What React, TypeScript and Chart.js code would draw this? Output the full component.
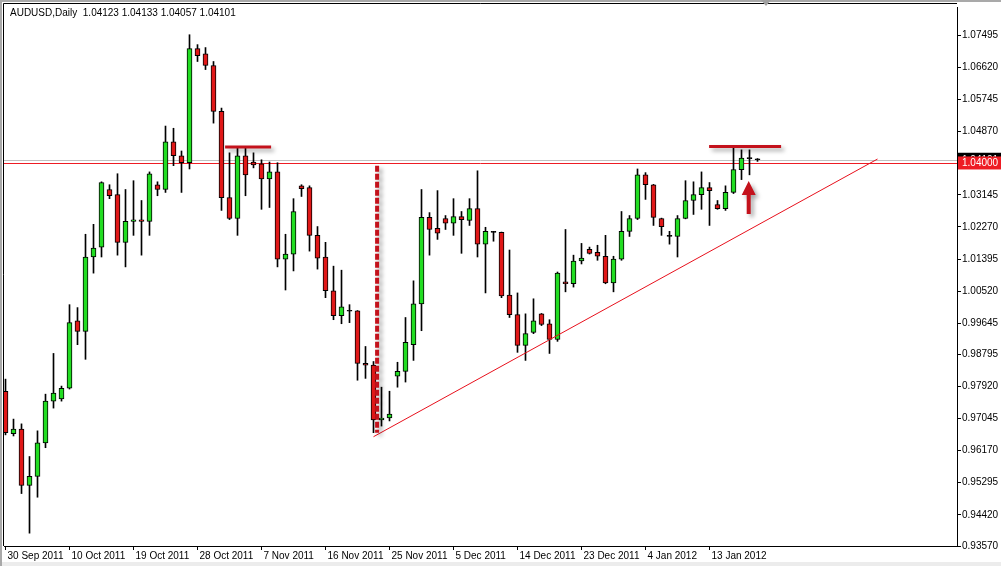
import React, { useEffect, useRef } from 'react';
import { Chart, registerables } from 'chart.js';

Chart.register(...registerables);

// Daily AUDUSD candles (bar index 0 = 30 Sep 2011)
const OPEN = [
  0.9779, 0.9663, 0.9676, 0.9522, 0.9547, 0.9638, 0.9752, 0.9758, 0.9787, 0.9971,
  0.9942, 1.0145, 1.0172, 1.0329, 1.0315, 1.0185, 1.0242, 1.0246, 1.0242, 1.0342,
  1.0329, 1.0459, 1.0421, 1.0402, 1.0713, 1.0699, 1.0667, 1.0542, 1.0307, 1.0250,
  1.0421, 1.0404, 1.0399, 1.0358, 1.0377, 1.0139, 1.0153, 1.0339, 1.0334, 1.0204,
  1.0145, 1.0053, 0.9985, 0.9998, 0.9998, 0.9855, 0.9850, 0.9701, 0.9706, 0.9820,
  0.9833, 0.9906, 1.0017, 1.0253, 1.0223, 1.0250, 1.0237, 1.0255, 1.0245, 1.0277,
  1.0180, 1.0213, 1.0212, 1.0041, 0.9988, 0.9904, 0.9939, 0.9990, 0.9963, 0.9920,
  1.0077, 1.0072, 1.0134, 1.0166, 1.0158, 1.0147, 1.0074, 1.0139, 1.0215, 1.0250,
  1.0369, 1.0342, 1.0250, 1.0202, 1.0201, 1.0250, 1.0299, 1.0315, 1.0334, 1.0288,
  1.0277, 1.0321, 1.0383, 1.0414, 1.04123,
];
const HIGH = [
  0.9812, 0.9703, 0.9690, 0.9601, 0.9671, 0.9771, 0.9882, 0.9793, 1.0015, 1.0007,
  1.0207, 1.0234, 1.0350, 1.0342, 1.0372, 1.0329, 1.0353, 1.0299, 1.0377, 1.0350,
  1.0502, 1.0496, 1.0434, 1.0751, 1.0724, 1.0716, 1.0678, 1.0551, 1.0429, 1.0442,
  1.0442, 1.0429, 1.0410, 1.0404, 1.0402, 1.0207, 1.0304, 1.0342, 1.0339, 1.0228,
  1.0185, 1.0120, 1.0109, 1.0015, 0.9999, 0.9901, 0.9860, 0.9790, 0.9779, 0.9858,
  0.9980, 1.0080, 1.0329, 1.0266, 1.0326, 1.0258, 1.0304, 1.0269, 1.0304, 1.0380,
  1.0226, 1.0215, 1.0213, 1.0164, 1.0047, 0.9990, 1.0031, 0.9991, 0.9974, 1.0104,
  1.0220, 1.0150, 1.0182, 1.0172, 1.0177, 1.0204, 1.0147, 1.0269, 1.0258, 1.0385,
  1.0375, 1.0343, 1.0251, 1.0215, 1.0258, 1.0353, 1.0350, 1.0377, 1.0348, 1.0299,
  1.0339, 1.0445, 1.0437, 1.0437, 1.04133,
];
const LOW = [
  0.9660, 0.9657, 0.9500, 0.9392, 0.9490, 0.9625, 0.9733, 0.9752, 0.9785, 0.9906,
  0.9866, 1.0101, 1.0145, 1.0304, 1.0150, 1.0118, 1.0204, 1.0150, 1.0204, 1.0312,
  1.0321, 1.0394, 1.0321, 1.0385, 1.0678, 1.0656, 1.0510, 1.0272, 1.0247, 1.0204,
  1.0312, 1.0388, 1.0275, 1.0280, 1.0118, 1.0055, 1.0107, 1.0310, 1.0161, 1.0112,
  1.0034, 0.9974, 0.9963, 0.9966, 0.9809, 0.9814, 0.9666, 0.9684, 0.9698, 0.9790,
  0.9804, 0.9863, 0.9944, 1.0150, 1.0193, 1.0220, 1.0204, 1.0155, 1.0231, 1.0145,
  1.0047, 1.0188, 1.0034, 0.9980, 0.9885, 0.9863, 0.9936, 0.9958, 0.9882, 0.9915,
  1.0050, 1.0063, 1.0126, 1.0153, 1.0136, 1.0072, 1.0050, 1.0136, 1.0201, 1.0247,
  1.0302, 1.0231, 1.0204, 1.0180, 1.0145, 1.0249, 1.0261, 1.0275, 1.0231, 1.0275,
  1.0272, 1.0318, 1.0356, 1.0369, 1.04057,
];
const CLOSE = [
  0.9666, 0.9676, 0.9522, 0.9547, 0.9638, 0.9752, 0.9774, 0.9787, 0.9966, 0.9942,
  1.0145, 1.0169, 1.0348, 1.0312, 1.0185, 1.0242, 1.0246, 1.0242, 1.0372, 1.0329,
  1.0459, 1.0421, 1.0402, 1.0713, 1.0694, 1.0667, 1.0542, 1.0307, 1.0250, 1.0421,
  1.0369, 1.0396, 1.0358, 1.0377, 1.0139, 1.0153, 1.0269, 1.0331, 1.0204, 1.0142,
  1.0053, 0.9985, 1.0009, 0.9997, 0.9855, 0.9850, 0.9701, 0.9706, 0.9717, 0.9833,
  0.9912, 1.0017, 1.0253, 1.0220, 1.0210, 1.0237, 1.0255, 1.0247, 1.0277, 1.0180,
  1.0215, 1.0212, 1.0039, 0.9988, 0.9904, 0.9936, 0.9971, 0.9961, 0.9920, 1.0101,
  1.0072, 1.0134, 1.0142, 1.0155, 1.0147, 1.0074, 1.0139, 1.0215, 1.0250, 1.0369,
  1.0342, 1.0253, 1.0228, 1.0201, 1.0250, 1.0299, 1.0315, 1.0334, 1.0326, 1.0277,
  1.0321, 1.0383, 1.0415, 1.0413, 1.04101,
];

const DATE_LABELS = [
  '30 Sep 2011', '10 Oct 2011', '19 Oct 2011', '28 Oct 2011', '7 Nov 2011', '16 Nov 2011',
  '25 Nov 2011', '5 Dec 2011', '14 Dec 2011', '23 Dec 2011', '4 Jan 2012', '13 Jan 2012',
];
const DATE_TICK_INDEX = [0, 8, 16, 24, 32, 40, 48, 56, 64, 72, 80, 88];

const PRICE_TICKS = [
  1.07495, 1.0662, 1.05745, 1.0487, 1.03995, 1.03145, 1.0227, 1.01395, 1.0052,
  0.99645, 0.98795, 0.9792, 0.97045, 0.9617, 0.95295, 0.9442, 0.9357,
];

const TITLE = 'AUDUSD,Daily  1.04123 1.04133 1.04057 1.04101';
const LEVEL = 1.04;
const BID = 1.04101;
const TREND_X = [46, 109];
const TREND_Y = [0.9655, 1.0412];
const VLINE_X = 46.45;
const VLINE_Y = [1.0394, 0.9666];
const RESIST_X = [[27.45, 33.2], [87.95, 96.95]];
const RESIST_Y = [1.0445, 1.0446];
const ARROW_X = 92.9;
const ARROW_Y = [1.0262, 1.0352];

const FONT = { family: '"Liberation Sans", Arial, sans-serif', size: 10 };

export default function App() {
  const ref = useRef<HTMLCanvasElement>(null);

  useEffect(() => {
    const canvas = ref.current;
    if (!canvas) return;
    const idx = OPEN.map((_, i) => i);
    const bodyColors = idx.map((i) =>
      Math.abs(CLOSE[i] - OPEN[i]) < 0.00025 ? '#000000' : CLOSE[i] > OPEN[i] ? '#22dd22' : '#e01818'
    );

    const overlay = {
      id: 'overlay',
      beforeDraw(chart: any) {
        const { ctx, width, height } = chart;
        ctx.save();
        ctx.fillStyle = '#ffffff';
        ctx.fillRect(0, 0, width, height);
        ctx.fillStyle = '#a9a9a9';
        ctx.fillRect(0, 0, width, 2);
        ctx.fillRect(0, 0, 2, height);
        ctx.fillStyle = '#ececec';
        ctx.fillRect(2, 562, width - 2, height - 562);
        ctx.restore();
      },
      beforeDatasetsDraw(chart: any) {
        const { ctx, chartArea: a, scales } = chart;
        const y = scales.y;
        ctx.save();
        ctx.beginPath();
        ctx.rect(a.left, a.top, a.right - a.left, a.bottom - a.top);
        ctx.clip();
        ctx.lineWidth = 1;
        const yb = Math.round(y.getPixelForValue(BID)) + 0.5;
        ctx.strokeStyle = '#c0c0c0';
        ctx.beginPath();
        ctx.moveTo(a.left, yb);
        ctx.lineTo(a.right, yb);
        ctx.stroke();
        const yl = Math.round(y.getPixelForValue(LEVEL)) + 0.5;
        ctx.strokeStyle = '#ee1c24';
        ctx.beginPath();
        ctx.moveTo(a.left, yl);
        ctx.lineTo(a.right, yl);
        ctx.stroke();
        ctx.restore();
      },
      afterDatasetsDraw(chart: any) {
        const { ctx, chartArea: a, scales } = chart;
        const x = scales.x;
        const y = scales.y;
        ctx.save();
        ctx.beginPath();
        ctx.rect(a.left, a.top, a.right - a.left, a.bottom - a.top);
        ctx.clip();
        // trend line
        ctx.strokeStyle = '#e8101c';
        ctx.lineWidth = 1;
        ctx.beginPath();
        ctx.moveTo(x.getPixelForValue(TREND_X[0]), y.getPixelForValue(TREND_Y[0]));
        ctx.lineTo(x.getPixelForValue(TREND_X[1]), y.getPixelForValue(TREND_Y[1]));
        ctx.stroke();

        ctx.shadowColor = 'rgba(0,0,0,0.35)';
        ctx.shadowBlur = 4;
        ctx.shadowOffsetX = 3;
        ctx.shadowOffsetY = 3;
        const dark = '#c4121c';
        // dashed vertical
        ctx.strokeStyle = dark;
        ctx.lineWidth = 4;
        ctx.setLineDash([6, 2]);
        const vx = x.getPixelForValue(VLINE_X);
        ctx.beginPath();
        ctx.moveTo(vx, y.getPixelForValue(VLINE_Y[0]));
        ctx.lineTo(vx, y.getPixelForValue(VLINE_Y[1]));
        ctx.stroke();
        ctx.setLineDash([]);
        // resistance segments
        ctx.lineWidth = 3;
        RESIST_X.forEach((r, k) => {
          const ry = y.getPixelForValue(RESIST_Y[k]);
          ctx.beginPath();
          ctx.moveTo(x.getPixelForValue(r[0]), ry);
          ctx.lineTo(x.getPixelForValue(r[1]), ry);
          ctx.stroke();
        });
        // arrow
        const ax = x.getPixelForValue(ARROW_X);
        const yTail = y.getPixelForValue(ARROW_Y[0]);
        const yTip = y.getPixelForValue(ARROW_Y[1]);
        const headLen = 14;
        ctx.fillStyle = dark;
        ctx.beginPath();
        ctx.moveTo(ax - 2, yTail);
        ctx.lineTo(ax - 2, yTip + headLen);
        ctx.lineTo(ax - 7, yTip + headLen);
        ctx.lineTo(ax, yTip);
        ctx.lineTo(ax + 7, yTip + headLen);
        ctx.lineTo(ax + 2, yTip + headLen);
        ctx.lineTo(ax + 2, yTail);
        ctx.closePath();
        ctx.fill();
        ctx.restore();
      },
      afterDraw(chart: any) {
        const { ctx, chartArea: a, scales } = chart;
        const y = scales.y;
        ctx.save();
        ctx.strokeStyle = '#000';
        ctx.lineWidth = 1;
        ctx.beginPath();
        ctx.moveTo(3.5, a.bottom);
        ctx.lineTo(3.5, 3.5);
        ctx.lineTo(a.right, 3.5);
        ctx.stroke();
        ctx.font = `${FONT.size}px ${FONT.family}`;
        ctx.textBaseline = 'middle';
        ctx.fillStyle = '#000';
        ctx.fillText(TITLE, 10, 13);
        // price labels on the axis
        const yb = y.getPixelForValue(BID);
        ctx.fillStyle = '#000';
        ctx.fillRect(a.right + 1, yb - 7, 44, 13);
        ctx.fillStyle = '#fff';
        ctx.fillText(BID.toFixed(5), a.right + 5, yb);
        const yl = y.getPixelForValue(LEVEL);
        ctx.fillStyle = '#ee1c24';
        ctx.fillRect(a.right + 1, yl - 7, 44, 13);
        ctx.fillStyle = '#fff';
        ctx.fillText(LEVEL.toFixed(5), a.right + 5, yl);
        // chart shift marker
        ctx.fillStyle = '#a0a0a0';
        ctx.beginPath();
        ctx.moveTo(761, 0);
        ctx.lineTo(771, 0);
        ctx.lineTo(766, 6);
        ctx.closePath();
        ctx.fill();
        ctx.restore();
      },
    };

    const xMin = -0.1875;
    const chart = new Chart(canvas, {
      type: 'bar',
      data: {
        datasets: [
          {
            label: 'body',
            data: idx.map((i) => ({ x: i, y: [OPEN[i], CLOSE[i]] })) as any,
            backgroundColor: bodyColors,
            borderColor: '#000000',
            borderWidth: 1,
            borderSkipped: false,
            grouped: false,
            barPercentage: 1,
            categoryPercentage: 1,
            maxBarThickness: 5,
            minBarLength: 1,
            order: 0,
          } as any,
          {
            label: 'wick',
            data: idx.map((i) => ({ x: i, y: [LOW[i], HIGH[i]] })) as any,
            backgroundColor: '#000000',
            borderWidth: 0,
            grouped: false,
            barPercentage: 1,
            categoryPercentage: 1,
            maxBarThickness: 1,
            order: 1,
          } as any,
        ],
      },
      options: {
        responsive: false,
        maintainAspectRatio: false,
        animation: false,
        devicePixelRatio: 1,
        layout: { padding: { left: 4, top: 3, right: 0, bottom: 0 } },
        plugins: { legend: { display: false }, tooltip: { enabled: false }, title: { display: false } },
        scales: {
          x: {
            type: 'linear',
            min: xMin,
            max: xMin + 953 / 8,
            offset: false,
            afterBuildTicks: (s: any) => {
              s.ticks = DATE_TICK_INDEX.map((v) => ({ value: v }));
            },
            afterFit: (s: any) => {
              s.height = 20;
            },
            ticks: {
              callback: (_v: any, i: number) => DATE_LABELS[i],
              align: 'start',
              labelOffset: 2,
              maxRotation: 0,
              minRotation: 0,
              autoSkip: false,
              padding: 0,
              color: '#000',
              font: FONT,
            },
            grid: { offset: false, drawOnChartArea: false, drawTicks: true, tickLength: 4, color: '#000' },
            border: { display: true, color: '#000' },
          } as any,
          y: {
            type: 'linear',
            position: 'right',
            min: 0.9357,
            max: 1.08266,
            afterBuildTicks: (s: any) => {
              s.ticks = PRICE_TICKS.map((v) => ({ value: v }));
            },
            afterFit: (s: any) => {
              s.width = 44;
            },
            ticks: {
              callback: (v: any) => Number(v).toFixed(5),
              autoSkip: false,
              padding: 1,
              color: '#000',
              font: FONT,
            },
            grid: { drawOnChartArea: false, drawTicks: true, tickLength: 4, color: '#000' },
            border: { display: true, color: '#000' },
          } as any,
        },
      },
      plugins: [overlay],
    });
    return () => chart.destroy();
  }, []);

  return (
    <div style={{ position: 'absolute', left: 0, top: 0, width: 1001, height: 566 }}>
      <canvas ref={ref} width={1001} height={566} style={{ display: 'block', width: 1001, height: 566 }} />
    </div>
  );
}
